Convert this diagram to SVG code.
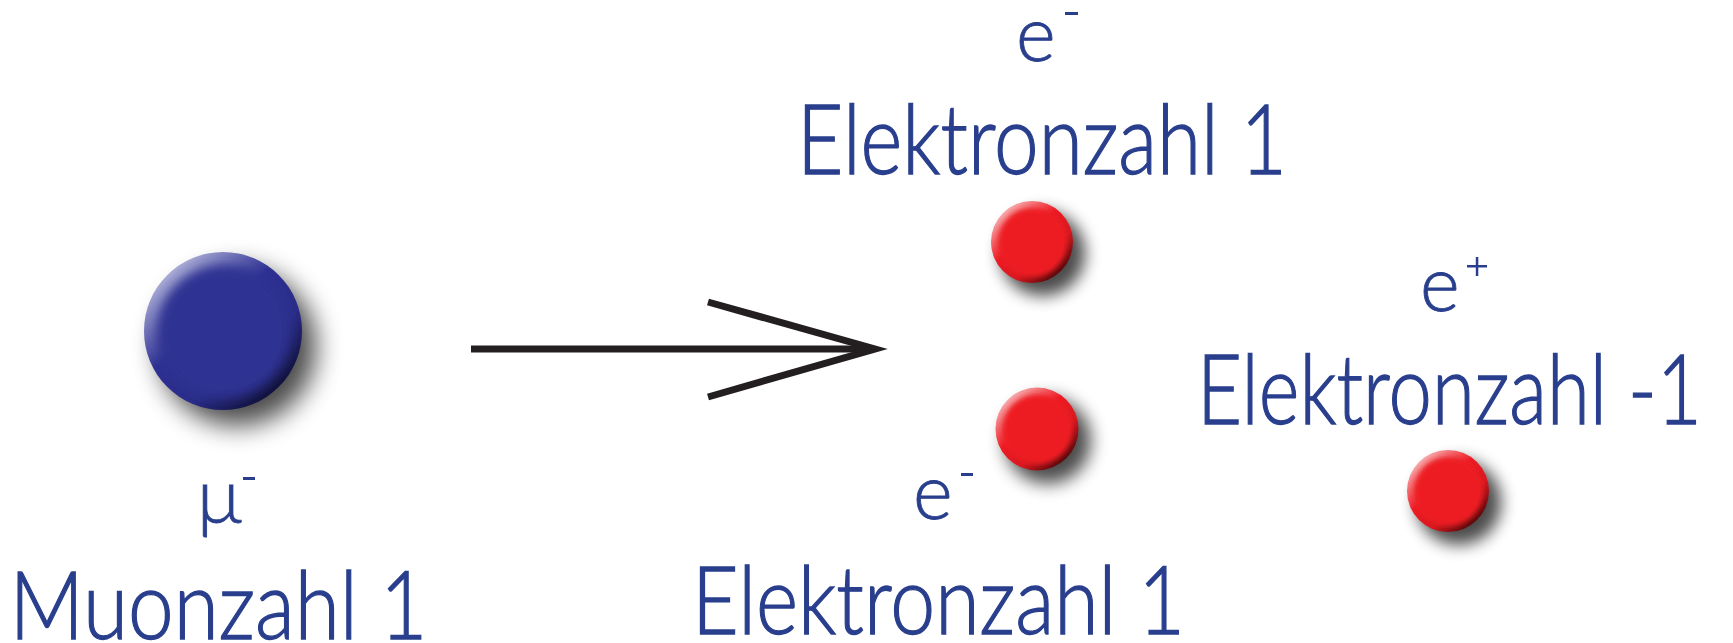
<svg xmlns="http://www.w3.org/2000/svg" xmlns:xlink="http://www.w3.org/1999/xlink" width="1733" height="643" viewBox="0 0 1733 643">
<style>
  .lbl { font-family: Lato, "Open Sans", "Liberation Sans", sans-serif; font-weight: 300; fill: #293F8D; stroke: #293F8D; stroke-width: 1.3; }
  .big { font-size: 94px; }
  .sym { font-size: 76px; stroke-width: 0.8; }
  .conn { fill: none; stroke: #231F20; stroke-width: 7; stroke-linejoin: miter; stroke-miterlimit: 10; }
</style>
<defs>
  <filter id="shadowBlur" x="-50%" y="-50%" width="200%" height="200%">
    <feGaussianBlur stdDeviation="8"/>
  </filter>
  <filter id="shadowBlurR" x="-60%" y="-60%" width="220%" height="220%">
    <feGaussianBlur stdDeviation="10"/>
  </filter>
  <filter id="soft" x="-30%" y="-30%" width="160%" height="160%">
    <feGaussianBlur stdDeviation="3.5"/>
  </filter>
  <clipPath id="unitClip"><circle cx="0" cy="0" r="50"/></clipPath>
  <linearGradient id="blueEdge" x1="0.15" y1="0.1" x2="0.85" y2="0.9">
    <stop offset="0" stop-color="#B4B6DC"/>
    <stop offset="0.4" stop-color="#2E3192"/>
    <stop offset="0.7" stop-color="#2A2D88"/>
    <stop offset="1" stop-color="#0E0F33"/>
  </linearGradient>
  <linearGradient id="redEdge" x1="0.15" y1="0.1" x2="0.85" y2="0.9">
    <stop offset="0" stop-color="#F8B4B6"/>
    <stop offset="0.4" stop-color="#ED1C24"/>
    <stop offset="0.7" stop-color="#D81920"/>
    <stop offset="1" stop-color="#4A0709"/>
  </linearGradient>
  <g id="blueBall">
    <circle cx="9" cy="10" r="50" fill="#000" opacity="0.7" filter="url(#shadowBlur)"/>
    <circle cx="0" cy="0" r="50" fill="url(#blueEdge)"/>
    <circle cx="0.5" cy="0.5" r="42" fill="#2E3192" filter="url(#soft)" clip-path="url(#unitClip)"/>
  </g>
  <g id="redBall">
    <circle cx="13" cy="14" r="52" fill="#000" opacity="0.7" filter="url(#shadowBlurR)"/>
    <circle cx="0" cy="0" r="50" fill="url(#redEdge)"/>
    <circle cx="0.5" cy="0.5" r="42" fill="#ED1C24" filter="url(#soft)" clip-path="url(#unitClip)"/>
  </g>
</defs>
<rect width="1733" height="643" fill="#FFFFFF"/>

<g id="connectors">
  <line class="conn" x1="471" y1="349" x2="874" y2="349"/>
  <polyline class="conn" points="708,302 875,349 708,397"/>
</g>

<g id="muon">
  <use href="#blueBall" transform="translate(223,331) scale(1.58)"/>
  <text class="lbl sym" x="197" y="523">μ</text>
  <rect x="243" y="477" width="12" height="3" fill="#293F8D"/>
  <text class="lbl big" x="218.5" y="639" text-anchor="middle" textLength="418" lengthAdjust="spacingAndGlyphs">Muonzahl 1</text>
</g>

<g id="electron-top">
  <use href="#redBall" transform="translate(1032,242) scale(0.82)"/>
  <text class="lbl sym" x="1016" y="61">e</text>
  <rect x="1065" y="12" width="13" height="3" fill="#293F8D"/>
  <text class="lbl big" x="1042" y="174" text-anchor="middle" textLength="490" lengthAdjust="spacingAndGlyphs" style="font-size:96px">Elektronzahl 1</text>
</g>

<g id="electron-bottom">
  <use href="#redBall" transform="translate(1037,429) scale(0.83)"/>
  <text class="lbl sym" x="913" y="519">e</text>
  <rect x="961" y="473" width="12" height="3" fill="#293F8D"/>
  <text class="lbl big" x="938.5" y="634" text-anchor="middle" textLength="493" lengthAdjust="spacingAndGlyphs">Elektronzahl 1</text>
</g>

<g id="positron">
  <use href="#redBall" transform="translate(1448,491) scale(0.82)"/>
  <text class="lbl sym" x="1420" y="311">e</text>
  <rect x="1467" y="265" width="20" height="2.5" fill="#293F8D"/>
  <rect x="1475.8" y="257" width="2.5" height="19" fill="#293F8D"/>
  <text class="lbl big" x="1449.5" y="424" text-anchor="middle" textLength="505" lengthAdjust="spacingAndGlyphs" style="font-size:96px">Elektronzahl -1</text>
</g>
</svg>
